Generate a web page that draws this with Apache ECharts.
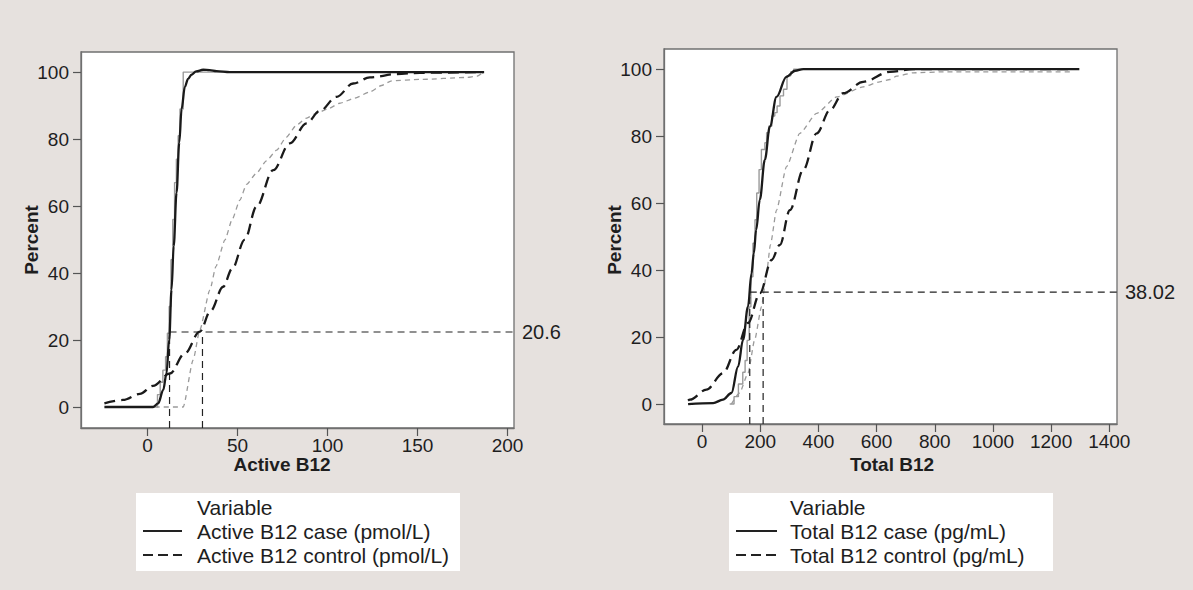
<!DOCTYPE html>
<html><head><meta charset="utf-8">
<script src="https://cdn.jsdelivr.net/npm/echarts@6/dist/echarts.min.js"></script>
<style>html,body{margin:0;padding:0;background:#e6e1de;}#c{width:1193px;height:590px;}</style>
</head><body><div id="c"></div>
<script>
// ---- tick labels ----
const yTicks = [0, 20, 40, 60, 80, 100];
const leftXTicks = [0, 50, 100, 150, 200];
const rightXTicks = [0, 200, 400, 600, 800, 1000, 1200, 1400];

// ---- left panel: Active B12 ----
const activeCaseFit = [[-24,0],[3,0],[5.9,1.1],[8.7,5.1],[10.5,10],[12,20],[13.3,35],[14.5,48],[16.1,64],[17.6,79],[18.9,89],[20.7,95.6],[22.5,98],[24.4,99.2],[27,100.2],[30.9,100.7],[34.5,100.6],[38.3,100.3],[45.7,100],[187,100]];
const activeCaseEmp = [[5,0],[5.5,3.7],[7,7.4],[8.5,11],[10,15],[11,22],[12,30],[13,44],[14,56],[15,67],[16,74],[17,81],[18,89],[19.8,100],[44,100]];
const activeCtrlFit = [[-24,1.1],[-13.7,2.1],[-4.3,3.9],[3,6.3],[12.4,10],[20.7,16],[29,22.5],[35,28.7],[42,35.9],[47,41.3],[54,50],[60.5,59.8],[69.8,70.7],[79,78.7],[88.3,84.7],[95.7,88.4],[105,92.6],[114.2,96.6],[123.5,98.4],[138.3,99.4],[151.3,99.8],[186.5,100]];
const activeCtrlEmp = [[4,0],[19.8,0],[25.3,14],[29,23],[34.6,34.9],[38,42],[43,49.9],[47,56],[51.3,61.8],[55,66.5],[60.5,69.8],[66,73.5],[71.7,76.7],[77,80.5],[82.8,84.2],[88,86.2],[93.9,87.7],[100,89],[106.8,90.7],[115,92.2],[123.5,94.1],[130,96],[135.6,97.4],[151.3,97.8],[177.2,98.4],[183,98.8],[186.5,100]];
const activeCutX = [12.2, 30.5];
const activeCutY = 22.4;
const activeCutLabel = '20.6';

// ---- right panel: Total B12 ----
const totalCaseFit = [[-48,0],[38,0.3],[72,1.3],[101,3.3],[124,11.2],[141,19.2],[158,29.1],[170,39],[178,45],[186,52],[198.6,61],[215.8,72.9],[233,82.8],[256,91.7],[290,97.7],[320,99.5],[348,100],[1297,100]];
const totalCaseEmp = [[95,0],[110,2.2],[125,6],[140,9.5],[148,13],[155,19],[162,29],[168,38],[175,48],[182,55],[188,63],[196,70],[204,76],[216,78],[222,81],[230,83],[240,86],[250,87],[258,89],[268,92],[280,94],[292,98],[305,99.2],[315,100],[345,100]];
const totalCtrlFit = [[-48,1],[-42,1.3],[15,4.3],[72,9.2],[118,16.2],[158,24.2],[199,33.1],[239,43],[267.5,47.5],[302,57.9],[348,69.9],[394,80.8],[440,87.8],[485,92.8],[554,96.2],[646,99.2],[726,100],[1260,100]];
const totalCtrlEmp = [[101,0],[129,3.3],[158,9.2],[181,19.2],[204.5,29.1],[221.7,39.1],[235,47.5],[256,57.9],[290.5,70.9],[336,80.8],[394,86.8],[463,91.7],[554,94.7],[611,96.2],[646,96.9],[669,97.9],[726,98.9],[841,99.2],[1265,99.2]];
const totalCutX = [164, 210];
const totalCutY = 33.4;
const totalCutLabel = '38.02';

const legendLeft = ['Active B12 case (pmol/L)', 'Active B12 control (pmol/L)'];
const legendRight = ['Total B12 case (pg/mL)', 'Total B12 control (pg/mL)'];

// ---- layout ----
const FONT = 'Liberation Sans, Arial, sans-serif';
const panels = [
  {grid:{left:81, top:52, width:433, height:376}, xmin:-37, xmax:203.6, ymin:-6.27, ymax:106, xt:leftXTicks,
   cf:activeCaseFit, ce:activeCaseEmp, tf:activeCtrlFit, te:activeCtrlEmp, cx:activeCutX, cy:activeCutY, cl:activeCutLabel},
  {grid:{left:664, top:49, width:453, height:375}, xmin:-130.8, xmax:1426.5, ymin:-5.96, ymax:106, xt:rightXTicks,
   cf:totalCaseFit, ce:totalCaseEmp, tf:totalCtrlFit, te:totalCtrlEmp, cx:totalCutX, cy:totalCutY, cl:totalCutLabel}
];

const plain = v => String(Math.round(v));
const grids = [], xAxes = [], yAxes = [], series = [];
panels.forEach((p, i) => {
  grids.push(Object.assign({show:true, backgroundColor:'#ffffff', borderColor:'#707070', borderWidth:1.3}, p.grid));
  xAxes.push({type:'value', gridIndex:i, min:p.xmin, max:p.xmax,
    axisLine:{show:true, onZero:false, lineStyle:{color:'#707070', width:1.3}},
    axisTick:{show:true, length:8, customValues:p.xt, lineStyle:{color:'#555', width:1.2}},
    axisLabel:{customValues:p.xt, formatter:plain, color:'#1e1e1e', fontSize:19, fontFamily:FONT, margin:8},
    splitLine:{show:false}});
  yAxes.push({type:'value', gridIndex:i, min:p.ymin, max:p.ymax,
    axisLine:{show:true, onZero:false, lineStyle:{color:'#707070', width:1.3}},
    axisTick:{show:true, length:8, customValues:yTicks, lineStyle:{color:'#555', width:1.2}},
    axisLabel:{customValues:yTicks, formatter:plain, color:'#1e1e1e', fontSize:19, fontFamily:FONT, margin:12},
    splitLine:{show:false}});
  const base = {type:'line', xAxisIndex:i, yAxisIndex:i, showSymbol:false, symbol:'none', silent:true, animation:false};
  series.push(Object.assign({}, base, {data:p.te, smooth:0.2, smoothMonotone:'x', lineStyle:{color:'#9a9a9a', width:1.3, type:[5,4]}}));
  series.push(Object.assign({}, base, {data:p.ce, step:'end', lineStyle:{color:'#9a9a9a', width:1.4}}));
  // reference lines
  const refStyle = {color:'#222', width:1.2, type:[7,5]};
  series.push(Object.assign({}, base, {data:[[p.cx[0], p.cy],[p.xmax, p.cy]], lineStyle:refStyle,
    endLabel:{show:true, formatter:p.cl, color:'#1e1e1e', fontSize:20, fontFamily:FONT, distance:8}}));
  p.cx.forEach(x => series.push(Object.assign({}, base, {data:[[x, p.ymin],[x, p.cy]], lineStyle:refStyle})));
  series.push(Object.assign({}, base, {data:p.tf, smooth:0.35, smoothMonotone:'x', lineStyle:{color:'#1a1a1a', width:2.3, type:[11,6]}}));
  series.push(Object.assign({}, base, {data:p.cf, smooth:0.35, smoothMonotone:'x', lineStyle:{color:'#1a1a1a', width:2.3}}));
});

function legendBlock(x, y, names, lineX0, lineX1, textX) {
  return [
    {type:'rect', shape:{x:x, y:y, width:324, height:78}, style:{fill:'#ffffff'}},
    {type:'text', x:textX, y:y+14, style:{text:'Variable', fill:'#1e1e1e', font:'21px ' + FONT, verticalAlign:'middle'}},
    {type:'line', shape:{x1:lineX0, y1:y+38, x2:lineX1, y2:y+38}, style:{stroke:'#222', lineWidth:2}},
    {type:'text', x:textX, y:y+38, style:{text:names[0], fill:'#1e1e1e', font:'21px ' + FONT, verticalAlign:'middle'}},
    {type:'line', shape:{x1:lineX0, y1:y+62, x2:lineX1, y2:y+62}, style:{stroke:'#222', lineWidth:2, lineDash:[10,5]}},
    {type:'text', x:textX, y:y+62, style:{text:names[1], fill:'#1e1e1e', font:'21px ' + FONT, verticalAlign:'middle'}}
  ];
}

const graphic = [
  {type:'text', x:31, y:240, rotation:Math.PI/2, style:{text:'Percent', fill:'#1e1e1e', font:'bold 19px ' + FONT, align:'center', verticalAlign:'middle'}},
  {type:'text', x:614, y:240, rotation:Math.PI/2, style:{text:'Percent', fill:'#1e1e1e', font:'bold 19px ' + FONT, align:'center', verticalAlign:'middle'}},
  {type:'text', x:282, y:464, style:{text:'Active B12', fill:'#1e1e1e', font:'bold 19px ' + FONT, align:'center', verticalAlign:'middle'}},
  {type:'text', x:892, y:464, style:{text:'Total B12', fill:'#1e1e1e', font:'bold 19px ' + FONT, align:'center', verticalAlign:'middle'}}
].concat(legendBlock(136, 493, legendLeft, 143, 182, 197), legendBlock(729, 493, legendRight, 736, 777, 790));

const chart = echarts.init(document.getElementById('c'), null, {renderer:'svg'});
chart.setOption({backgroundColor:'#e6e1de', animation:false, grid:grids, xAxis:xAxes, yAxis:yAxes, series:series, graphic:graphic});
</script></body></html>
